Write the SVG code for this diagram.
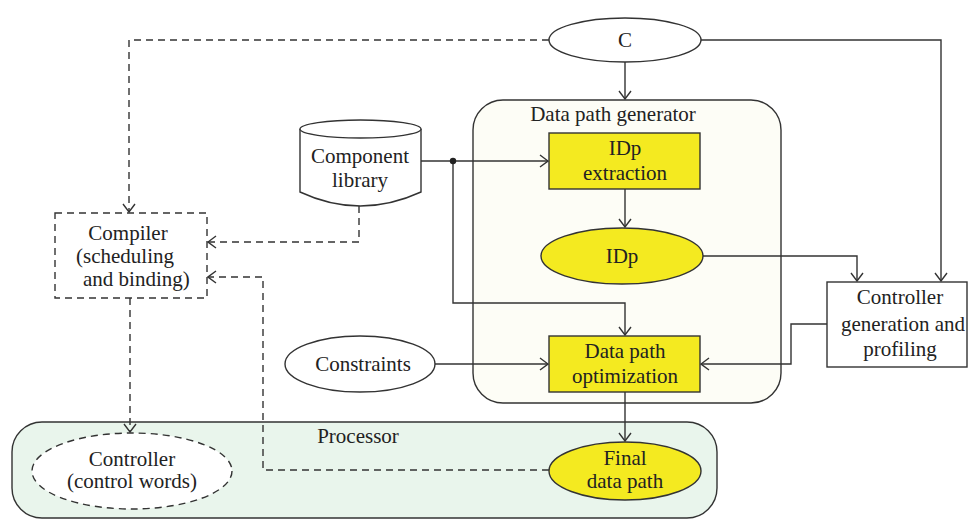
<svg xmlns="http://www.w3.org/2000/svg" width="968" height="521" viewBox="0 0 968 521">
<style>
text{font-family:"Liberation Serif","Times New Roman",serif;font-size:21px;fill:#222;text-anchor:middle}
.ln{fill:none;stroke:#333;stroke-width:1.4}
.dash{stroke-dasharray:7,5}
.yel{fill:#f4ea20;stroke:#333;stroke-width:1.4}
.wht{fill:#fff;stroke:#333;stroke-width:1.4}
</style>
<defs>
<marker id="arr" markerUnits="userSpaceOnUse" viewBox="0 0 10 14" refX="9" refY="7" markerWidth="10" markerHeight="14" orient="auto">
<path d="M1,1 L9,7 L1,13" fill="none" stroke="#333" stroke-width="1.4"/>
</marker>
</defs>
<g id="processor">
<rect x="12" y="422" width="705" height="96" rx="30" fill="#e9f5ec" stroke="#333" stroke-width="1.4"/>
<text x="358" y="443">Processor</text>
</g>
<g id="dpgen">
<rect x="473" y="100" width="308" height="303" rx="30" fill="#fdfdf6" stroke="#333" stroke-width="1.4"/>
<text x="613" y="121">Data path generator</text>
</g>
<g id="connectors">
<path class="ln" d="M625,62 V99" marker-end="url(#arr)"/>
<path class="ln" d="M700,40 H941 V281" marker-end="url(#arr)"/>
<path class="ln dash" d="M549,40 H129 V212" marker-end="url(#arr)"/>
<path class="ln" d="M421,161 H548" marker-end="url(#arr)"/>
<path class="ln" d="M453,161 V303 H625 V335" marker-end="url(#arr)"/>
<path class="ln" d="M625,189 V227" marker-end="url(#arr)"/>
<path class="ln" d="M703,256 H857 V281" marker-end="url(#arr)"/>
<path class="ln" d="M435,364 H548" marker-end="url(#arr)"/>
<path class="ln" d="M827,324 H791 V364 H701" marker-end="url(#arr)"/>
<path class="ln" d="M625,392 V441" marker-end="url(#arr)"/>
<path class="ln dash" d="M359,206 V242 H208" marker-end="url(#arr)"/>
<path class="ln dash" d="M549,470 H263 V277 H208" marker-end="url(#arr)"/>
<path class="ln dash" d="M130,298 V432" marker-end="url(#arr)"/>
<circle cx="453" cy="161" r="3.2" fill="#222"/>
</g>
<g id="c">
<ellipse cx="625" cy="40" rx="76" ry="22" class="wht"/>
<text x="625" y="47">C</text>
</g>
<g id="library">
<path class="wht" d="M300,129 V192 Q360,220 421,192 V129"/>
<ellipse cx="360.5" cy="129" rx="60.5" ry="9" class="wht"/>
<text x="360" y="163">Component</text>
<text x="360" y="187">library</text>
</g>
<g id="idpext">
<rect x="549" y="133" width="151" height="56" class="yel"/>
<text x="625" y="155">IDp</text>
<text x="625" y="180">extraction</text>
</g>
<g id="idp">
<ellipse cx="622" cy="256" rx="81" ry="28" class="yel"/>
<text x="622" y="263">IDp</text>
</g>
<g id="compiler">
<rect x="55" y="213" width="152" height="85" fill="#fff" stroke="#333" stroke-width="1.4" stroke-dasharray="7,5"/>
<text x="128" y="240">Compiler</text>
<text x="76" y="263" style="text-anchor:start">(scheduling</text>
<text x="83" y="286" style="text-anchor:start">and binding)</text>
</g>
<g id="constraints">
<ellipse cx="360" cy="364" rx="75" ry="28" class="wht"/>
<text x="363" y="371">Constraints</text>
</g>
<g id="dpopt">
<rect x="549" y="336" width="151" height="56" class="yel"/>
<text x="625" y="358">Data path</text>
<text x="625" y="383">optimization</text>
</g>
<g id="ctrlgen">
<rect x="827" y="282" width="140" height="85" class="wht"/>
<text x="900" y="304">Controller</text>
<text x="903" y="331">generation and</text>
<text x="900" y="356">profiling</text>
</g>
<g id="controller">
<ellipse cx="132" cy="471" rx="100" ry="38" fill="#fff" stroke="#333" stroke-width="1.4" stroke-dasharray="7,5"/>
<text x="132" y="466">Controller</text>
<text x="132" y="488">(control words)</text>
</g>
<g id="final">
<ellipse cx="625" cy="471" rx="76" ry="29" class="yel"/>
<text x="625" y="465">Final</text>
<text x="625" y="488">data path</text>
</g>
</svg>
